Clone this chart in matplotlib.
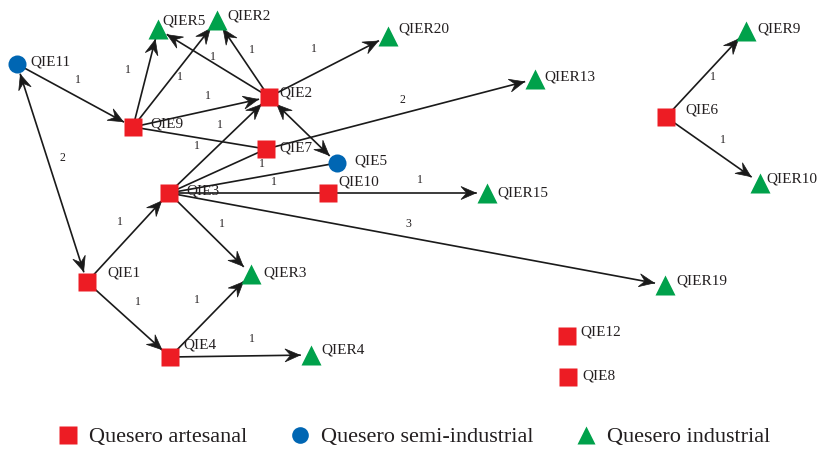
import numpy as np
import matplotlib
matplotlib.use('Agg')
import matplotlib.pyplot as plt
from matplotlib.lines import Line2D
from matplotlib.patches import Polygon

plt.rcParams['font.family'] = ['Liberation Serif', 'DejaVu Serif']

# nodes: name -> type (0 artesanal, 1 semi-industrial, 2 industrial)
node_names = ['QIE11', 'QIE9', 'QIER5', 'QIER2', 'QIE2', 'QIER20', 'QIER13', 'QIE7',
              'QIE5', 'QIE3', 'QIE10', 'QIER15', 'QIE1', 'QIER3', 'QIE4', 'QIER4',
              'QIER19', 'QIE12', 'QIE8', 'QIE6', 'QIER9', 'QIER10']
node_types = [1, 0, 2, 2, 0, 2, 2, 0,
              1, 0, 0, 2, 0, 2, 0, 2,
              2, 0, 0, 0, 2, 2]

# edges: source, target, weight ('' = no label), direction
edge_src = ['QIE11', 'QIE11', 'QIE9', 'QIE9', 'QIE9', 'QIE9', 'QIE3', 'QIE2', 'QIE2', 'QIE2',
            'QIE2', 'QIE7', 'QIE3', 'QIE3', 'QIE3', 'QIE10', 'QIE3', 'QIE3', 'QIE1', 'QIE1',
            'QIE4', 'QIE4', 'QIE6', 'QIE6']
edge_dst = ['QIE9', 'QIE1', 'QIER5', 'QIER2', 'QIE2', 'QIE7', 'QIE2', 'QIER5', 'QIER2', 'QIER20',
            'QIE5', 'QIER13', 'QIE7', 'QIE5', 'QIE10', 'QIER15', 'QIER3', 'QIER19', 'QIE3', 'QIE4',
            'QIER3', 'QIER4', 'QIER9', 'QIER10']
edge_w = ['1', '2', '1', '1', '1', '1', '1', '1', '1', '1',
          '', '2', '1', '', '1', '1', '1', '3', '1', '1',
          '1', '1', '1', '1']
edge_dir = ['->', '<->', '->', '->', '->', '-', '->', '->', '->', '->',
            '<->', '->', '-', '-', '-', '->', '->', '->', '->', '->',
            '->', '->', '->', '->']

legend_labels = ['Quesero artesanal', 'Quesero semi-industrial', 'Quesero industrial']

# ---- layout (pixel coordinates of the picture) ----
pos = {'QIE11': (17, 64), 'QIE9': (133, 127), 'QIER5': (158, 29), 'QIER2': (217, 20),
       'QIE2': (269, 97), 'QIER20': (388, 36), 'QIER13': (535, 79), 'QIE7': (266, 149),
       'QIE5': (337, 163), 'QIE3': (169, 193), 'QIE10': (328, 193), 'QIER15': (487, 193),
       'QIE1': (87, 282), 'QIER3': (251, 274), 'QIE4': (170, 357), 'QIER4': (311, 355),
       'QIER19': (665, 285), 'QIE12': (567, 336), 'QIE8': (568, 377), 'QIE6': (666, 117),
       'QIER9': (746, 31), 'QIER10': (760, 183)}
lab_pos = {'QIE11': (30, 62), 'QIE9': (150, 124), 'QIER5': (162, 21), 'QIER2': (227, 16),
           'QIE2': (279, 93), 'QIER20': (398, 29), 'QIER13': (544, 77), 'QIE7': (279, 148),
           'QIE5': (354, 161), 'QIE3': (186, 191), 'QIE10': (338, 182), 'QIER15': (497, 193),
           'QIE1': (107, 273), 'QIER3': (263, 273), 'QIE4': (183, 345), 'QIER4': (321, 350),
           'QIER19': (676, 281), 'QIE12': (580, 332), 'QIE8': (582, 376), 'QIE6': (685, 110),
           'QIER9': (757, 29), 'QIER10': (766, 179)}
wlab_pos = [(78, 80), (62, 158), (128, 70), (180, 77), (208, 96), (197, 146), (220, 125),
            (213, 57), (252, 50), (314, 49), (0, 0), (402, 100), (262, 164), (0, 0),
            (274, 182), (420, 180), (222, 224), (408, 224), (120, 222), (138, 302),
            (197, 300), (252, 339), (713, 77), (723, 140)]

colors = ['#ED1C24', '#0066B3', '#00A14B']
markers = ['s', 'o', '^']
msizes = [13.5, 13, 14.5]
txt = '#231F20'

fig = plt.figure(figsize=(8.22, 4.51), dpi=100)
ax = fig.add_axes([0, 0, 1, 1])
ax.set_xlim(0, 822)
ax.set_ylim(451, 0)
ax.axis('off')


def head(ax, tip, u):
    n = np.array([-u[1], u[0]])
    L, W = 15, 6.5
    pts = [tip, tip - u * L + n * W, tip - u * L * 0.62, tip - u * L - n * W]
    ax.add_patch(Polygon(pts, closed=True, fc='#1a1a1a', ec='#1a1a1a', lw=0.5, zorder=2))


for s, d, w, dr, lp in zip(edge_src, edge_dst, edge_w, edge_dir, wlab_pos):
    a = np.array(pos[s], float)
    b = np.array(pos[d], float)
    u = (b - a) / np.linalg.norm(b - a)
    r = 11
    p0 = a + u * r if dr == '<->' else a
    p1 = b - u * r if dr != '-' else b
    ax.plot([p0[0], p1[0]], [p0[1], p1[1]], color='#1a1a1a', lw=1.2, zorder=1)
    if dr in ('->', '<->'):
        head(ax, p1, u)
    if dr == '<->':
        head(ax, p0, -u)
    if w:
        ax.text(lp[0], lp[1], w, fontsize=8.5, color=txt, ha='center', va='center')

for name, t in zip(node_names, node_types):
    x, y = pos[name]
    ax.plot(x, y, marker=markers[t], ms=msizes[t], color=colors[t], mec='none', zorder=3)
    lx, ly = lab_pos[name]
    ax.text(lx, ly, name, fontsize=11, color=txt, ha='left', va='center', zorder=4)

handles = [Line2D([], [], ls='none', marker=markers[i], ms=msizes[i] - 1, color=colors[i], mec='none')
           for i in range(3)]
ax.legend(handles, legend_labels, loc='center', bbox_to_anchor=(0.503, 0.031), ncol=3,
          frameon=False, fontsize=16, handletextpad=0.45, columnspacing=1.85,
          handlelength=1.0, labelcolor=txt)

fig.savefig('out.png', dpi=100)
